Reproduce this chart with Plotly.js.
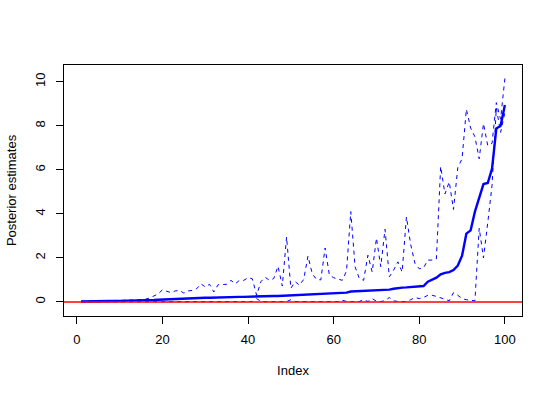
<!DOCTYPE html>
<html>
<head>
<meta charset="utf-8">
<script src="https://cdn.plot.ly/plotly-3.0.1.min.js"></script>
<style>
html,body{margin:0;padding:0;background:#fff;}
#chart{width:555px;height:397px;}
</style>
</head>
<body>
<div id="chart"></div>
<script>
// Index 1..100
var index = [];
for (var k = 1; k <= 100; k++) index.push(k);

// Posterior means (solid line)
var meanEst = [
  0.02,0.02,0.03,0.03,0.03,0.04,0.04,0.04,0.05,0.05,
  0.05,0.06,0.06,0.06,0.07,0.07,0.08,0.09,0.10,0.11,
  0.12,0.13,0.15,0.16,0.16,0.17,0.17,0.18,0.18,0.19,
  0.19,0.20,0.20,0.21,0.21,0.22,0.22,0.23,0.23,0.24,
  0.24,0.25,0.25,0.26,0.26,0.27,0.27,0.28,0.28,0.29,
  0.29,0.30,0.31,0.32,0.33,0.34,0.35,0.36,0.37,0.38,
  0.39,0.40,0.42,0.47,0.48,0.49,0.50,0.50,0.51,0.52,
  0.53,0.54,0.56,0.60,0.64,0.65,0.66,0.67,0.68,0.70,
  0.72,0.92,1.00,1.10,1.25,1.32,1.35,1.45,1.65,2.10,
  3.10,3.25,4.10,4.70,5.35,5.40,6.05,7.88,8.00,8.94
];

// Upper bound (dashed)
var upperEst = [
  0.03,0.04,0.04,0.05,0.05,0.05,0.06,0.06,0.06,0.07,
  0.07,0.08,0.08,0.09,0.10,0.12,0.18,0.28,0.36,0.55,
  0.50,0.42,0.50,0.52,0.40,0.50,0.52,0.60,0.82,0.68,
  0.80,0.45,0.78,0.78,0.80,0.98,0.82,0.98,0.98,1.10,
  1.05,0.30,0.92,1.12,0.98,1.06,1.62,0.72,2.95,0.62,
  0.92,0.76,1.02,2.08,1.28,1.02,1.00,2.45,1.22,1.10,
  1.04,0.98,1.40,4.10,1.60,1.06,0.98,2.12,1.36,2.90,
  1.60,3.30,1.14,1.44,1.82,1.36,3.86,2.60,1.75,1.50,
  1.55,1.90,1.90,1.95,6.15,4.90,5.45,4.20,6.10,6.50,
  8.75,7.90,7.50,6.50,8.10,7.10,7.20,9.05,8.30,10.15
];

// Lower bound (dashed)
var lowerEst = [
  0.00,0.00,0.00,0.00,0.00,0.01,0.00,0.01,0.00,0.01,
  0.01,0.00,0.01,0.01,0.00,0.01,0.01,0.00,0.01,0.01,
  0.01,0.01,0.00,0.01,0.01,0.01,0.00,0.01,0.01,0.01,
  0.01,0.00,0.01,0.01,0.01,0.02,0.01,0.01,0.02,0.01,
  0.02,0.15,0.02,0.01,0.02,0.02,0.01,0.02,0.02,0.10,
  0.02,0.02,0.01,0.02,0.02,0.03,0.02,0.02,0.02,0.02,
  0.02,0.08,0.02,0.02,0.03,0.02,0.10,0.02,0.15,0.03,
  0.02,0.05,0.20,0.05,0.02,0.03,0.02,0.10,0.20,0.15,
  0.20,0.30,0.30,0.25,0.20,0.12,0.05,0.42,0.30,0.15,
  0.10,0.08,0.05,3.35,2.00,3.60,5.30,8.80,7.70,8.60
];

var xTicks = [0, 20, 40, 60, 80, 100];
var yTicks = [0, 2, 4, 6, 8, 10];

var font = {family: 'Liberation Sans, Arial, Helvetica, sans-serif', size: 13, color: '#000'};

var traces = [
  {x: index, y: meanEst, type: 'scatter', mode: 'lines',
   line: {color: '#0000FF', width: 2.4}, hoverinfo: 'skip'},
  {x: index, y: upperEst, type: 'scatter', mode: 'lines',
   line: {color: '#0000FF', width: 1, dash: '4px,4px'}, hoverinfo: 'skip'},
  {x: index, y: lowerEst, type: 'scatter', mode: 'lines',
   line: {color: '#0000FF', width: 1, dash: '4px,4px'}, hoverinfo: 'skip'}
];

var layout = {
  width: 555, height: 397,
  margin: {l: 64, r: 33, t: 65, b: 81, pad: 0},
  paper_bgcolor: '#fff', plot_bgcolor: '#fff',
  showlegend: false,
  font: font,
  xaxis: {
    range: [-3.0, 104.0],
    tickvals: xTicks, ticktext: xTicks.map(String),
    ticks: 'outside', ticklen: 7, tickwidth: 1, tickcolor: '#000',
    showline: true, mirror: true, linecolor: '#000', linewidth: 1,
    showgrid: false, zeroline: false,
    ticklabelstandoff: 4,
    tickfont: font,
    title: {text: 'Index', font: font, standoff: 20}
  },
  yaxis: {
    range: [-0.64, 10.76],
    tickvals: yTicks, ticktext: yTicks.map(String),
    tickangle: -90,
    ticks: 'outside', ticklen: 7, tickwidth: 1, tickcolor: '#000',
    showline: true, mirror: true, linecolor: '#000', linewidth: 1,
    showgrid: false, zeroline: false,
    ticklabelstandoff: 6,
    tickfont: font,
    title: {text: 'Posterior estimates', font: font, standoff: 13}
  },
  shapes: [
    {type: 'line', xref: 'paper', x0: 0, x1: 1, yref: 'y', y0: 0, y1: 0,
     line: {color: '#FF0000', width: 1.5}, layer: 'above'}
  ]
};

Plotly.newPlot('chart', traces, layout, {staticPlot: true, displayModeBar: false});
</script>
</body>
</html>
